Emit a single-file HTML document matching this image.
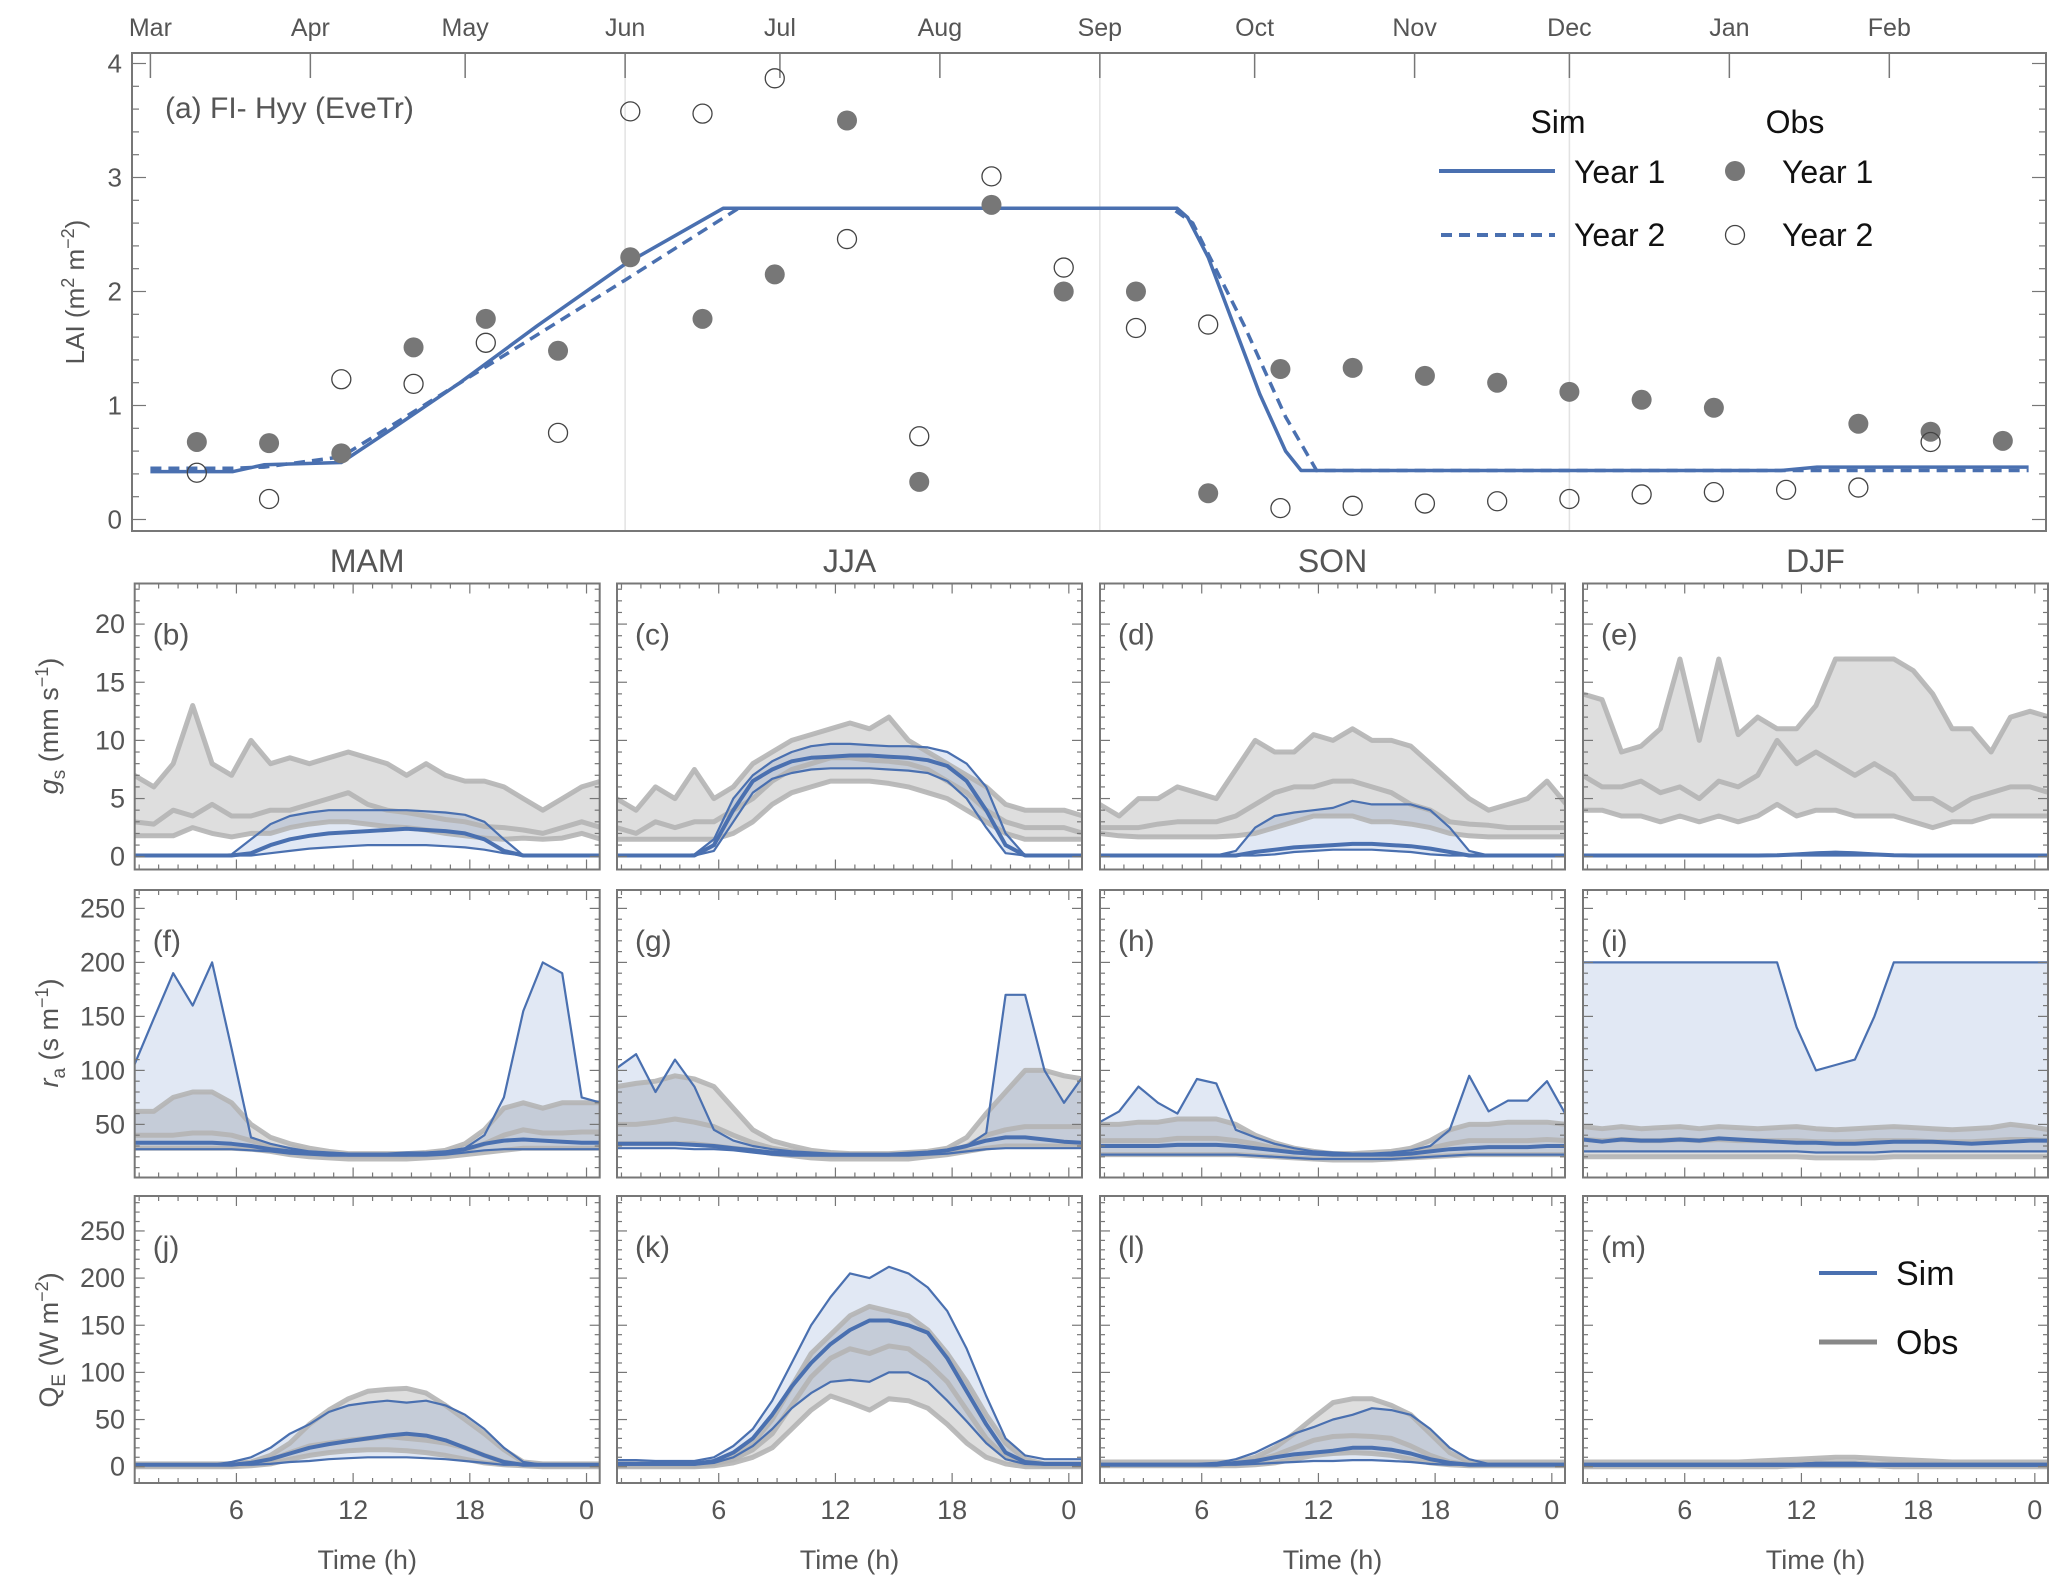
<!DOCTYPE html>
<html><head><meta charset="utf-8"><title>FI-Hyy LAI, gs, ra and QE</title>
<style>
html,body{margin:0;padding:0;background:#fff;}
svg{display:block;font-family:"Liberation Sans",Arial,sans-serif;}
</style></head>
<body>
<svg id="fig" width="2067" height="1592" viewBox="0 0 2067 1592" xmlns="http://www.w3.org/2000/svg"></svg>
<script>
// ---------- Panel (a) LAI data ----------
const monthLabels=["Mar","Apr","May","Jun","Jul","Aug","Sep","Oct","Nov","Dec","Jan","Feb"];
const monthDays=[0,31,61,92,122,153,184,214,245,275,306,337];
const simY1Days=[0,16,22,37,47,60,75,92,111,199,201,205,210,215,220,223,316,323,364];
const simY1Vals=[0.42,0.42,0.48,0.5,0.8,1.2,1.7,2.24,2.73,2.73,2.65,2.3,1.7,1.1,0.6,0.43,0.43,0.46,0.46];
const simY2Days=[0,16,22,37,92,114,198,202,212,220,226,364];
const simY2Vals=[0.45,0.45,0.46,0.55,2.1,2.73,2.73,2.6,1.7,0.9,0.43,0.43];
const obsDays=[9,23,37,51,65,79,93,107,121,135,149,163,177,191,205,219,233,247,261,275,289,303,317,331,345,359];
const obsY1=[0.68,0.67,0.58,1.51,1.76,1.48,2.30,1.76,2.15,3.50,0.33,2.76,2.0,2.0,0.23,1.32,1.33,1.26,1.20,1.12,1.05,0.98,null,0.84,0.77,0.69];
const obsY2=[0.41,0.18,1.23,1.19,1.55,0.76,3.58,3.56,3.87,2.46,0.73,3.01,2.21,1.68,1.71,0.10,0.12,0.14,0.16,0.18,0.22,0.24,0.26,0.28,0.68,null];
const laiTicks=[0,1,2,3,4];

// ---------- Diurnal panels data ----------
const hours=[0.75,1.75,2.75,3.75,4.75,5.75,6.75,7.75,8.75,9.75,10.75,11.75,12.75,13.75,14.75,15.75,16.75,17.75,18.75,19.75,20.75,21.75,22.75,23.75,24.75];
const seasons=["MAM","JJA","SON","DJF"];
const hourTicks=[6,12,18,24];
const hourTickLabels=["6","12","18","0"];
const gsTicks=[0,5,10,15,20];
const raTicks=[50,100,150,200,250];
const qeTicks=[0,50,100,150,200,250];

// gs (mm s-1)
const gsMamObsHi=[7,6,8,13,8,7,10,8,8.5,8,8.5,9,8.5,8,7,8,7,6.5,6.5,6,5,4,5,6,6.5];
const gsMamObsMid=[3,2.8,4,3.5,4.5,3.5,3.5,4,4,4.5,5,5.5,4.5,4,3.8,3.5,3.2,3,2.6,2.5,2.3,2,2.5,3,2.5];
const gsMamObsLo=[1.8,1.8,1.8,2.5,2,1.7,2,2,2.5,2.8,3,3,2.8,2.6,2.5,2.3,2,1.8,1.6,1.5,1.6,1.5,1.6,2,1.5];
const gsMamSimHi=[0.1,0.1,0.1,0.1,0.1,0.2,1.5,2.8,3.5,3.8,4,4,4,4,4,3.9,3.8,3.6,3,1.5,0.1,0.1,0.1,0.1,0.1];
const gsMamSimMid=[0.1,0.1,0.1,0.1,0.1,0.1,0.3,1,1.5,1.8,2,2.1,2.2,2.3,2.4,2.3,2.2,2,1.5,0.5,0.1,0.1,0.1,0.1,0.1];
const gsMamSimLo=[0.1,0.1,0.1,0.1,0.1,0.1,0.1,0.3,0.5,0.7,0.8,0.9,1,1,1,1,0.9,0.8,0.6,0.3,0.1,0.1,0.1,0.1,0.1];
const gsJjaObsHi=[5,4,6,5,7.5,5,6,8,9,10,10.5,11,11.5,11,12,10,9,8,7,6,4.5,4,4,4,3.5];
const gsJjaObsMid=[2.5,2,3,2.5,3,3,4,5,6.5,7.5,8,8.5,8.5,8.3,8.2,8,7.5,6.5,5.5,4,3,2.5,2.5,2.5,2];
const gsJjaObsLo=[1.5,1.5,1.5,1.5,1.5,1.5,2,3,4.5,5.5,6,6.5,6.5,6.5,6.3,6,5.5,5,4,3,2,1.5,1.5,1.5,1.5];
const gsJjaSimHi=[0.1,0.1,0.1,0.1,0.2,1.5,5,7,8.2,9,9.5,9.7,9.7,9.6,9.5,9.5,9.4,9,8,6,2,0.1,0.1,0.1,0.1];
const gsJjaSimMid=[0.1,0.1,0.1,0.1,0.1,1,4,6.5,7.5,8.2,8.5,8.6,8.7,8.7,8.6,8.5,8.3,7.8,6.5,4,1,0.1,0.1,0.1,0.1];
const gsJjaSimLo=[0.1,0.1,0.1,0.1,0.1,0.5,3,5.5,6.7,7.2,7.5,7.6,7.6,7.6,7.5,7.4,7.2,6.5,5,2.5,0.3,0.1,0.1,0.1,0.1];
const gsSonObsHi=[4.5,3.5,5,5,6,5.5,5,7.5,10,9,9,10.5,10,11,10,10,9.5,8,6.5,5,4,4.5,5,6.5,4.5];
const gsSonObsMid=[2.5,2.5,2.5,2.8,3,3,3,3.5,4.5,5.5,6,6,6.5,6.5,6,5.5,4.5,4,3,2.8,2.7,2.5,2.5,2.5,2.5];
const gsSonObsLo=[2,1.8,1.7,1.7,1.7,1.7,1.7,1.8,2,2.5,3,3.5,3.5,3.5,3,3,2.8,2.5,2,1.8,1.7,1.7,1.7,1.7,1.7];
const gsSonSimHi=[0.1,0.1,0.1,0.1,0.1,0.1,0.1,0.5,2.5,3.5,3.8,4,4.2,4.8,4.5,4.5,4.5,4,2.5,0.5,0.1,0.1,0.1,0.1,0.1];
const gsSonSimMid=[0.1,0.1,0.1,0.1,0.1,0.1,0.1,0.1,0.4,0.6,0.8,0.9,1,1.1,1.1,1,0.9,0.7,0.4,0.1,0.1,0.1,0.1,0.1,0.1];
const gsSonSimLo=[0.1,0.1,0.1,0.1,0.1,0.1,0.1,0.1,0.1,0.2,0.4,0.5,0.6,0.6,0.6,0.5,0.4,0.2,0.1,0.1,0.1,0.1,0.1,0.1,0.1];
const gsDjfObsHi=[14,13.5,9,9.5,11,17,10,17,10.5,12,11,11,13,17,17,17,17,16,14,11,11,9,12,12.5,12];
const gsDjfObsMid=[7,6,6,6.5,5.5,6,5,6.5,6,7,10,8,9,8,7,8,7,5,5,4,5,5.5,6,6,5.5];
const gsDjfObsLo=[4,4,3.5,3.5,3,3.5,3,3.5,3,3.5,4.5,3.5,4,4,3.5,3.5,3.5,3,2.5,3,3,3.5,3.5,3.5,3.5];
const gsDjfSimHi=[0.1,0.1,0.1,0.1,0.1,0.1,0.1,0.1,0.1,0.1,0.15,0.25,0.35,0.4,0.35,0.25,0.15,0.1,0.1,0.1,0.1,0.1,0.1,0.1,0.1];
const gsDjfSimMid=[0.1,0.1,0.1,0.1,0.1,0.1,0.1,0.1,0.1,0.1,0.12,0.2,0.3,0.35,0.3,0.2,0.12,0.1,0.1,0.1,0.1,0.1,0.1,0.1,0.1];
const gsDjfSimLo=[0.1,0.1,0.1,0.1,0.1,0.1,0.1,0.1,0.1,0.1,0.1,0.1,0.1,0.1,0.1,0.1,0.1,0.1,0.1,0.1,0.1,0.1,0.1,0.1,0.1];

// ra (s m-1)
const raMamObsHi=[62,62,75,80,80,70,50,38,32,28,25,23,23,23,23,24,26,32,45,65,70,65,70,70,70];
const raMamObsMid=[40,40,40,42,42,40,35,30,27,24,22,21,21,21,21,22,24,26,32,40,45,42,42,43,43];
const raMamObsLo=[28,28,28,28,28,28,27,25,22,20,19,18,18,18,18,19,20,22,24,26,28,28,28,28,28];
const raMamSimHi=[105,148,190,160,200,120,38,32,28,25,24,23,23,23,24,24,25,28,40,75,155,200,190,75,70];
const raMamSimMid=[33,33,33,33,33,32,30,27,25,24,23,22,22,22,22,23,24,27,32,35,36,35,34,33,33];
const raMamSimLo=[27,27,27,27,27,27,26,25,23,22,21,21,21,21,21,21,22,24,26,27,27,27,27,27,27];
const raJjaObsHi=[85,88,90,95,92,85,65,45,35,30,26,24,23,23,23,24,25,28,38,60,80,100,100,95,92];
const raJjaObsMid=[50,50,52,55,52,48,40,33,28,25,23,21,21,21,21,22,23,25,30,40,45,48,48,48,48];
const raJjaObsLo=[32,32,32,32,32,30,28,26,23,21,19,18,18,18,18,18,20,22,25,28,30,30,30,30,30];
const raJjaSimHi=[102,115,80,110,85,45,35,30,27,25,24,23,22,22,22,23,24,26,30,42,170,170,100,70,95];
const raJjaSimMid=[32,32,32,32,31,30,28,26,24,23,22,22,22,22,22,23,24,26,30,35,38,38,36,34,33];
const raJjaSimLo=[28,28,28,28,27,27,26,24,22,21,21,21,21,21,21,21,22,23,25,27,28,28,28,28,28];
const raSonObsHi=[50,50,52,52,55,55,55,50,40,33,28,25,23,23,24,25,28,35,45,50,50,52,52,52,50];
const raSonObsMid=[35,35,35,35,37,37,37,35,32,28,25,23,22,22,22,23,25,28,32,35,35,35,35,36,35];
const raSonObsLo=[22,22,22,22,22,22,22,22,21,20,19,18,17,17,17,18,19,20,21,22,22,22,22,22,22];
const raSonSimHi=[52,62,85,70,60,92,88,45,38,32,28,25,24,23,23,24,26,30,45,95,62,72,72,90,58];
const raSonSimMid=[30,30,30,30,31,31,31,30,28,26,24,23,22,22,22,22,23,25,27,28,29,29,29,30,30];
const raSonSimLo=[22,22,22,22,22,22,22,22,21,20,19,18,18,18,18,18,19,20,21,22,22,22,22,22,22];
const raDjfObsHi=[48,46,48,46,47,48,46,48,47,46,47,48,46,45,46,47,48,47,46,45,46,47,50,48,45];
const raDjfObsMid=[36,35,36,35,35,36,35,36,35,35,35,35,34,34,34,35,35,35,34,34,34,35,36,36,35];
const raDjfObsLo=[20,20,20,20,20,20,20,20,20,20,20,20,19,19,19,19,20,20,20,20,20,20,20,20,20];
const raDjfSimHi=[200,200,200,200,200,200,200,200,200,200,200,140,100,105,110,150,200,200,200,200,200,200,200,200,200];
const raDjfSimMid=[36,34,36,35,35,36,35,37,36,35,34,33,33,32,32,33,34,34,34,33,32,33,34,35,35];
const raDjfSimLo=[25,25,25,25,25,25,25,25,25,25,25,25,24,24,24,24,25,25,25,25,25,25,25,25,25];

// QE (W m-2)
const qeMamObsHi=[3,3,3,3,3,3,5,12,25,45,60,72,80,82,83,78,65,50,35,18,5,3,3,3,3];
const qeMamObsMid=[1,1,1,1,1,1,3,7,15,22,25,28,30,32,30,28,25,20,12,5,2,1,1,1,1];
const qeMamObsLo=[0,0,0,0,0,0,1,3,8,12,15,17,18,18,17,15,12,8,4,2,1,0,0,0,0];
const qeMamSimHi=[2,2,2,2,2,5,10,20,35,45,58,65,68,70,68,70,65,55,40,20,5,2,2,2,2];
const qeMamSimMid=[2,2,2,2,2,2,4,8,14,20,24,27,30,33,35,33,28,20,12,5,2,2,2,2,2];
const qeMamSimLo=[2,2,2,2,2,2,2,3,5,6,8,9,10,10,10,9,8,6,4,2,2,2,2,2,2];
const qeJjaObsHi=[3,3,3,3,3,5,10,25,50,85,120,140,160,170,165,160,145,120,90,55,25,8,3,3,3];
const qeJjaObsMid=[1,1,1,1,1,3,8,18,35,65,95,115,125,120,128,125,110,90,60,30,10,3,1,1,1];
const qeJjaObsLo=[0,0,0,0,0,1,4,10,20,40,60,75,68,60,72,70,62,45,25,10,3,0,0,0,0];
const qeJjaSimHi=[7,7,6,6,6,10,22,40,70,110,150,180,205,200,212,205,190,165,125,75,30,12,8,8,8];
const qeJjaSimMid=[3,3,3,3,3,6,15,30,55,85,110,130,145,155,155,150,142,115,80,45,15,5,3,3,3];
const qeJjaSimLo=[2,2,2,2,2,4,10,22,40,62,78,90,92,90,100,100,90,70,48,25,8,3,2,2,2];
const qeSonObsHi=[5,5,5,5,5,5,5,5,10,20,35,52,68,72,72,65,55,35,15,5,5,5,5,5,5];
const qeSonObsMid=[2,2,2,2,2,2,2,3,6,12,20,28,32,33,32,30,22,12,5,2,2,2,2,2,2];
const qeSonObsLo=[1,1,1,1,1,1,1,1,2,4,8,12,14,15,14,12,8,4,2,1,1,1,1,1,1];
const qeSonSimHi=[3,3,3,3,3,3,4,8,15,25,35,42,50,55,62,60,55,40,20,8,3,3,3,3,3];
const qeSonSimMid=[2,2,2,2,2,2,2,4,6,10,13,15,17,20,20,18,14,8,4,2,2,2,2,2,2];
const qeSonSimLo=[2,2,2,2,2,2,2,2,3,4,5,6,6,7,7,6,5,3,2,2,2,2,2,2,2];
const qeDjfObsHi=[5,5,5,5,5,5,5,5,5,6,7,8,9,10,10,9,8,7,6,5,5,5,5,5,5];
const qeDjfObsMid=[2,2,2,2,2,2,2,2,2,2,3,3,4,4,4,3,3,2,2,2,2,2,2,2,2];
const qeDjfObsLo=[0,0,0,0,0,0,0,0,0,0,0,1,1,1,1,1,0,0,0,0,0,0,0,0,0];
const qeDjfSimHi=[3,3,3,3,3,3,3,3,3,3,3,3,4,4,4,3,3,3,3,3,3,3,3,3,3];
const qeDjfSimMid=[2,2,2,2,2,2,2,2,2,2,2,2,3,3,3,2,2,2,2,2,2,2,2,2,2];
const qeDjfSimLo=[1,1,1,1,1,1,1,1,1,1,1,1,1,1,1,1,1,1,1,1,1,1,1,1,1];

const NS="http://www.w3.org/2000/svg";
const svg=document.getElementById('fig');
const BLUE="#4a70b0", GRAY_T="#555", FRAME="#777";
function mk(tag,attrs,parent){const e=document.createElementNS(NS,tag);for(const k in attrs)e.setAttribute(k,attrs[k]);(parent||svg).appendChild(e);return e;}
function txt(s,x,y,size,anchor,fill,parent){const t=mk('text',{x:x,y:y,'font-size':size,'text-anchor':anchor||'middle',fill:fill||GRAY_T},parent);t.textContent=s;return t;}

// ================= Panel (a) =================
const A={l:132,r:2046,t:53,b:531};
function ax(d){return 150.4+d*5.16;}
function ay(v){return 519.5-v*114;}
const gA=mk('g',{});


[3,6,9].forEach(i=>{const l=mk('line',{x1:ax(monthDays[i]),x2:ax(monthDays[i]),y1:A.t,y2:A.b,stroke:'#e2e2e2','stroke-width':1.5},gA);
});
const fr=mk('rect',{x:A.l,y:A.t,width:A.r-A.l,height:A.b-A.t,fill:'none',stroke:FRAME,'stroke-width':2},gA);

monthLabels.forEach((m,i)=>{const x=ax(monthDays[i]);
 mk('line',{x1:x,x2:x,y1:A.t,y2:A.t+25,stroke:FRAME,'stroke-width':1.5},gA);
 const t=txt(m,x,36,25,'middle',GRAY_T,gA);});
for(let k=0;k<=20;k++){const v=k*0.2,y=ay(v),major=(k%5===0);
 mk('line',{x1:A.l,x2:A.l+(major?14:7),y1:y,y2:y,stroke:FRAME,'stroke-width':1.2},gA);
 mk('line',{x1:A.r,x2:A.r-(major?14:7),y1:y,y2:y,stroke:FRAME,'stroke-width':1.2},gA);}
laiTicks.forEach(v=>{const t=txt(String(v),122,ay(v)+9,26,'end',GRAY_T,gA);});
const yt=mk('text',{x:0,y:0,'font-size':26,'text-anchor':'middle',fill:GRAY_T,transform:'translate(84,292) rotate(-90)'},gA);

yt.innerHTML='LAI  (m<tspan dy="-10" font-size="18">2</tspan><tspan dy="10"> m</tspan><tspan dy="-10" font-size="18">−2</tspan><tspan dy="10">)</tspan>';
const ttl=txt('(a) FI- Hyy (EveTr)',165,118,30,'start',GRAY_T,gA);
function polyline(xs,ys,fx,fy){return xs.map((d,i)=>(i?'L':'M')+fx(d).toFixed(1)+','+fy(ys[i]).toFixed(1)).join('');}
const s1=mk('path',{d:polyline(simY1Days,simY1Vals,ax,ay),fill:'none',stroke:BLUE,'stroke-width':3.5,'stroke-linejoin':'round'},gA);

const s2=mk('path',{d:polyline(simY2Days,simY2Vals,ax,ay),fill:'none',stroke:BLUE,'stroke-width':3.5,'stroke-dasharray':'11,7'},gA);

obsDays.forEach((d,i)=>{
 if(obsY1[i]!==null){const c=mk('circle',{cx:ax(d),cy:ay(obsY1[i]),r:10,fill:'#777'},gA);}
 if(obsY2[i]!==null){const c=mk('circle',{cx:ax(d),cy:ay(obsY2[i]),r:9.5,fill:'none',stroke:'#444','stroke-width':1.3},gA);}
});
// legend
const lg=mk('g',{},gA);
txt('Sim',1558,133,32,'middle','#111',lg);txt('Obs',1795,133,32,'middle','#111',lg);
mk('line',{x1:1439,x2:1555,y1:171,y2:171,stroke:BLUE,'stroke-width':4},lg);
mk('line',{x1:1441,x2:1555,y1:235,y2:235,stroke:BLUE,'stroke-width':4,'stroke-dasharray':'11,7'},lg);
txt('Year 1',1574,183,32,'start','#111',lg);txt('Year 2',1574,246,32,'start','#111',lg);
mk('circle',{cx:1735,cy:171,r:10,fill:'#777'},lg);
mk('circle',{cx:1735,cy:235,r:9.5,fill:'none',stroke:'#444','stroke-width':1.3},lg);
txt('Year 1',1782,183,32,'start','#111',lg);txt('Year 2',1782,246,32,'start','#111',lg);

// ================= Diurnal panels =================
const colL=[134.7,617,1100,1583], W=465;
const rows=[
 {key:'gs',t:583.5,b:869.5,y0:856.7,k:11.63,ticks:gsTicks,minor:1,max:23,labels:['b','c','d','e'],
  data:[[gsMamObsLo,gsMamObsMid,gsMamObsHi,gsMamSimLo,gsMamSimMid,gsMamSimHi],[gsJjaObsLo,gsJjaObsMid,gsJjaObsHi,gsJjaSimLo,gsJjaSimMid,gsJjaSimHi],[gsSonObsLo,gsSonObsMid,gsSonObsHi,gsSonSimLo,gsSonSimMid,gsSonSimHi],[gsDjfObsLo,gsDjfObsMid,gsDjfObsHi,gsDjfSimLo,gsDjfSimMid,gsDjfSimHi]]},
 {key:'ra',t:890,b:1177.5,y0:1178.4,k:1.08,ticks:raTicks,minor:10,max:260,labels:['f','g','h','i'],
  data:[[raMamObsLo,raMamObsMid,raMamObsHi,raMamSimLo,raMamSimMid,raMamSimHi],[raJjaObsLo,raJjaObsMid,raJjaObsHi,raJjaSimLo,raJjaSimMid,raJjaSimHi],[raSonObsLo,raSonObsMid,raSonObsHi,raSonSimLo,raSonSimMid,raSonSimHi],[raDjfObsLo,raDjfObsMid,raDjfObsHi,raDjfSimLo,raDjfSimMid,raDjfSimHi]]},
 {key:'qe',t:1196,b:1483,y0:1466.7,k:0.943,ticks:qeTicks,minor:10,max:280,labels:['j','k','l','m'],
  data:[[qeMamObsLo,qeMamObsMid,qeMamObsHi,qeMamSimLo,qeMamSimMid,qeMamSimHi],[qeJjaObsLo,qeJjaObsMid,qeJjaObsHi,qeJjaSimLo,qeJjaSimMid,qeJjaSimHi],[qeSonObsLo,qeSonObsMid,qeSonObsHi,qeSonSimLo,qeSonSimMid,qeSonSimHi],[qeDjfObsLo,qeDjfObsMid,qeDjfObsHi,qeDjfSimLo,qeDjfSimMid,qeDjfSimHi]]}
];
seasons.forEach((s,c)=>{const t=txt(s,colL[c]+W/2,572,32,'middle',GRAY_T);});

rows.forEach((R,ri)=>{
 R.data.forEach((D,c)=>{
  const L=colL[c];
  const fx=h=>L+(h-0.77)*19.45;
  const fy=v=>R.y0-v*R.k;
  const g=mk('g',{});
  
  
  const cid='clip'+ri+c;
  const cp=mk('clipPath',{id:cid},g);mk('rect',{x:L,y:R.t,width:W,height:R.b-R.t},cp);
  const gd=mk('g',{'clip-path':'url(#'+cid+')'},g);
  function band(lo,hi,fill,name){
   let d=hours.map((h,i)=>(i?'L':'M')+fx(h).toFixed(1)+','+fy(hi[i]).toFixed(1)).join('');
   for(let i=hours.length-1;i>=0;i--)d+='L'+fx(hours[i]).toFixed(1)+','+fy(lo[i]).toFixed(1);
   const p=mk('path',{d:d+'Z',fill:fill,stroke:'none'},gd);
   }
  function line(v,stroke,w,name,op){
   const p=mk('path',{d:polyline(hours,v,fx,fy),fill:'none',stroke:stroke,'stroke-width':w,'stroke-linejoin':'round','stroke-opacity':op||1},gd);
   }
  band(D[0],D[2],'rgba(0,0,0,0.13)','obs-range-band');
  band(D[3],D[5],'rgba(80,120,190,0.17)','sim-range-band');
  [D[0],D[1],D[2]].forEach(v=>line(v,'#b4b4b4',5,'obs-line',0.9));
  line(D[3],BLUE,2.2,'sim-low-line');line(D[5],BLUE,2.2,'sim-high-line');line(D[4],BLUE,4,'sim-median-line');
  // frame + ticks
  const f=mk('rect',{x:L,y:R.t,width:W,height:R.b-R.t,fill:'none',stroke:FRAME,'stroke-width':2},g);
  
  for(let h=1;h<=24;h++){const x=fx(h),maj=hourTicks.includes(h),len=maj?10:5;
   mk('line',{x1:x,x2:x,y1:R.b,y2:R.b-len,stroke:FRAME,'stroke-width':1.2},g);
   mk('line',{x1:x,x2:x,y1:R.t,y2:R.t+len,stroke:FRAME,'stroke-width':1.2},g);}
  for(let v=0;v<=R.max;v+=R.minor){const y=fy(v);if(y<R.t||y>R.b)continue;const maj=(v%(R.minor*5)===0),len=maj?10:5;
   mk('line',{x1:L,x2:L+len,y1:y,y2:y,stroke:FRAME,'stroke-width':1.2},g);
   mk('line',{x1:L+W,x2:L+W-len,y1:y,y2:y,stroke:FRAME,'stroke-width':1.2},g);}
  const lab=txt('('+R.labels[c]+')',L+18,R.t+61,30,'start',GRAY_T,g);
  
  if(c===0){R.ticks.forEach(v=>{const t=txt(String(v),125,fy(v)+9,27,'end',GRAY_T,g);});}
  if(ri===2){hourTicks.forEach((h,i)=>{const t=txt(hourTickLabels[i],fx(h),1519,27,'middle',GRAY_T,g);});
   const t=txt('Time (h)',L+W/2,1569,27,'middle',GRAY_T,g);}
 });
});
// y-axis titles
function ytitle(html,cy,name){const t=mk('text',{x:0,y:0,'font-size':27,'text-anchor':'middle',fill:GRAY_T,transform:'translate(58,'+cy+') rotate(-90)'});
 t.innerHTML=html;}
ytitle('<tspan font-style="italic">g</tspan><tspan font-size="19" dy="7">s</tspan><tspan dy="-7">  (mm s</tspan><tspan dy="-10" font-size="18">−1</tspan><tspan dy="10">)</tspan>',726,'gs-axis-title');
ytitle('<tspan font-style="italic">r</tspan><tspan font-size="19" dy="7">a</tspan><tspan dy="-7">  (s m</tspan><tspan dy="-10" font-size="18">−1</tspan><tspan dy="10">)</tspan>',1033,'ra-axis-title');
ytitle('<tspan>Q</tspan><tspan font-size="19" dy="7">E</tspan><tspan dy="-7">  (W m</tspan><tspan dy="-10" font-size="18">−2</tspan><tspan dy="10">)</tspan>',1340,'qe-axis-title');
// bottom legend
const bl=mk('g',{});
mk('line',{x1:1819,x2:1877,y1:1273,y2:1273,stroke:BLUE,'stroke-width':4},bl);
mk('line',{x1:1819,x2:1877,y1:1342,y2:1342,stroke:'#888','stroke-width':5},bl);
txt('Sim',1896,1285,34,'start','#111',bl);txt('Obs',1896,1354,34,'start','#111',bl);
</script>
</body></html>
